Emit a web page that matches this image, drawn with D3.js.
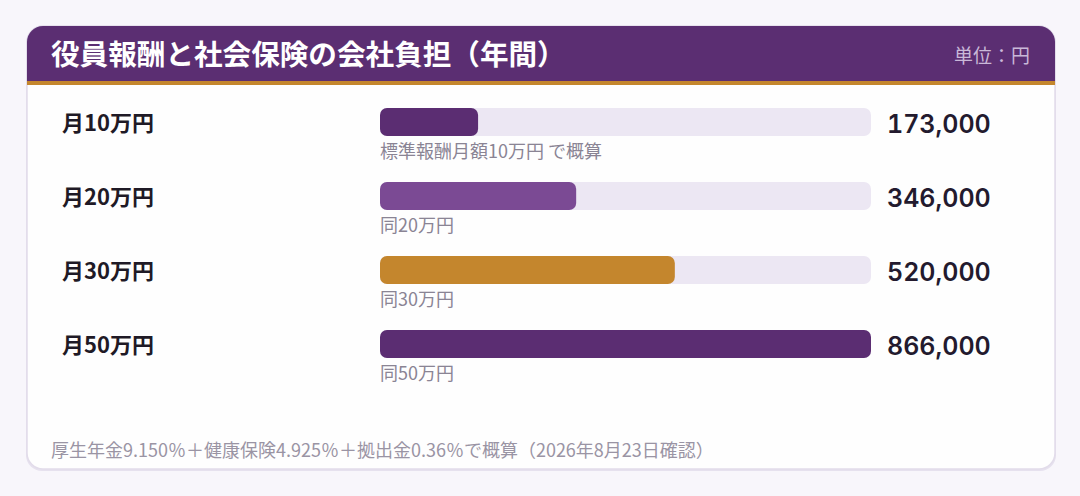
<!DOCTYPE html>
<html lang="ja">
<head>
<meta charset="utf-8">
<script src="https://cdn.jsdelivr.net/npm/d3@7"></script>
<style>
  html, body { margin: 0; padding: 0; background: #f8f6fb; }
  svg { display: block; font-family: "Noto Sans CJK JP", "Noto Sans", sans-serif; }
  .value { font-variant-numeric: tabular-nums; }
</style>
</head>
<body>
<div id="chart"></div>
<script>
// Data
const categories = ['月10万円', '月20万円', '月30万円', '月50万円'];
const values = [173000, 346000, 520000, 866000];
const notes = ['標準報酬月額10万円 で概算', '同20万円', '同30万円', '同50万円'];
const barColors = ['#5b2d72', '#7b4a94', '#c4862d', '#5b2d72'];

const title = '役員報酬と社会保険の会社負担（年間）';
const unitLabel = '単位：円';
const footnote = '厚生年金9.150％＋健康保険4.925％＋拠出金0.36％で概算（2026年8月23日確認）';

const W = 1080, H = 496;
const card = { x: 27, y: 26, w: 1028, h: 443, r: 16 };
const headerH = 55;

const svg = d3.select('#chart').append('svg')
  .attr('width', W)
  .attr('height', H);

const defs = svg.append('defs');
defs.append('clipPath').attr('id', 'card-clip')
  .append('rect')
  .attr('x', card.x).attr('y', card.y)
  .attr('width', card.w).attr('height', card.h)
  .attr('rx', card.r);

// Card shadow + body
svg.append('rect')
  .attr('x', card.x - 1).attr('y', card.y + 2)
  .attr('width', card.w + 2).attr('height', card.h)
  .attr('rx', card.r)
  .attr('fill', '#e6e1ee');

svg.append('rect')
  .attr('x', card.x).attr('y', card.y)
  .attr('width', card.w).attr('height', card.h)
  .attr('rx', card.r)
  .attr('fill', '#fefefe')
  .attr('stroke', '#e2dcea')
  .attr('stroke-width', 1.5);

// Header
const header = svg.append('g').attr('clip-path', 'url(#card-clip)');
header.append('rect')
  .attr('x', card.x).attr('y', card.y)
  .attr('width', card.w).attr('height', headerH)
  .attr('fill', '#5b2e72');
header.append('rect')
  .attr('x', card.x).attr('y', card.y + headerH)
  .attr('width', card.w).attr('height', 4)
  .attr('fill', '#c4862d');

svg.append('text')
  .attr('x', 51).attr('y', 65)
  .attr('fill', '#ffffff')
  .attr('font-size', 28.6)
  .attr('font-weight', 700)
  .text(title);

svg.append('text')
  .attr('x', 1030).attr('y', 63)
  .attr('text-anchor', 'end')
  .attr('fill', '#c9b8d8')
  .attr('font-size', 19)
  .text(unitLabel);

// Scales
const x = d3.scaleLinear()
  .domain([0, d3.max(values)])
  .range([380, 871]);

const y = d3.scaleBand()
  .domain(categories)
  .range([108, 404])
  .paddingInner(0);

const barH = 28;

const rows = svg.append('g')
  .selectAll('g')
  .data(categories.map((c, i) => ({ cat: c, value: values[i], note: notes[i], color: barColors[i] })))
  .join('g')
  .attr('transform', d => `translate(0,${y(d.cat)})`);

rows.append('text')
  .attr('x', 62).attr('y', 23)
  .attr('fill', '#1f1a26')
  .attr('font-size', 22)
  .attr('font-weight', 700)
  .text(d => d.cat);

rows.append('rect')
  .attr('x', x(0)).attr('y', 0)
  .attr('width', x.range()[1] - x(0))
  .attr('height', barH)
  .attr('rx', 7)
  .attr('fill', '#ece7f3');

rows.append('rect')
  .attr('x', x(0)).attr('y', 0)
  .attr('width', d => x(d.value) - x(0))
  .attr('height', barH)
  .attr('rx', 7)
  .attr('fill', d => d.color);

rows.append('text')
  .attr('x', 380).attr('y', 50)
  .attr('fill', '#8a8494')
  .attr('font-size', 18)
  .text(d => d.note);

rows.append('text')
  .attr('class', 'value')
  .attr('x', 887).attr('y', 25)
  .attr('fill', '#231a2e')
  .attr('font-family', 'Inter, "Noto Sans", sans-serif')
  .attr('font-size', 25)
  .attr('font-weight', 600)
  .text(d => d3.format(',')(d.value));

// Footnote
svg.append('text')
  .attr('x', 51).attr('y', 457)
  .attr('fill', '#9a94a4')
  .attr('font-size', 18)
  .text(footnote);
</script>
</body>
</html>
